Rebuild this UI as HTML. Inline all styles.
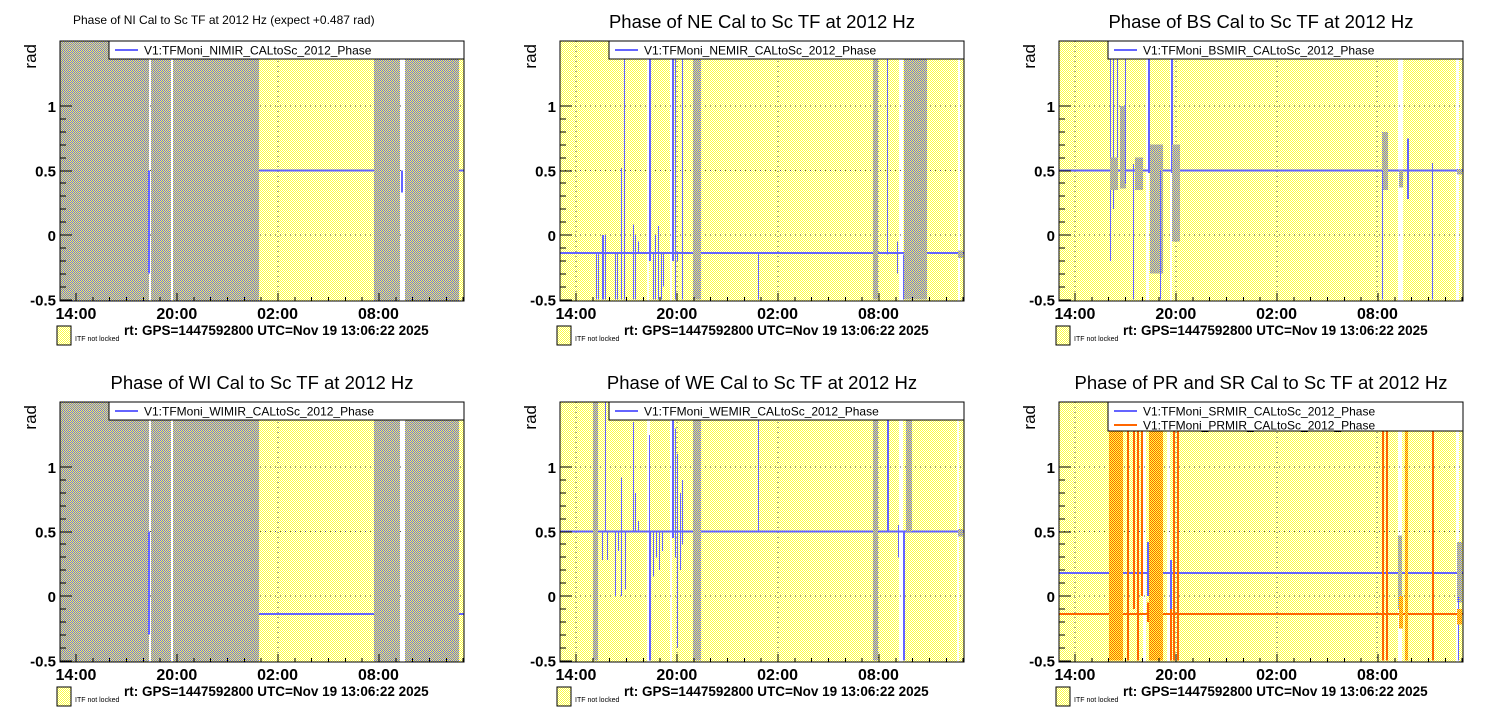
<!DOCTYPE html>
<html><head><meta charset="utf-8"><style>
body{margin:0;background:#fff;width:1496px;height:722px;overflow:hidden}
svg{display:block}
text{font-family:"Liberation Sans",Arial,sans-serif}
</style></head><body>
<svg id="s" width="1496" height="722" xmlns="http://www.w3.org/2000/svg" shape-rendering="crispEdges">
<defs>
<pattern id="py" width="2" height="2" patternUnits="userSpaceOnUse"><rect width="2" height="2" fill="#fff"/><rect width="1" height="1" fill="#ffff40"/><rect x="1" y="1" width="1" height="1" fill="#ffff40"/></pattern>
<pattern id="pb" width="2" height="2" patternUnits="userSpaceOnUse"><rect width="2" height="2" fill="#ffff40"/><rect width="1" height="1" fill="#6464ff"/><rect x="1" y="1" width="1" height="1" fill="#6464ff"/></pattern>
<pattern id="po" width="2" height="2" patternUnits="userSpaceOnUse"><rect width="2" height="2" fill="#ffff40"/><rect width="1" height="1" fill="#ff6600"/><rect x="1" y="1" width="1" height="1" fill="#ff6600"/></pattern>
</defs>
</svg>
<script>
const S=document.getElementById('s');const NS='http://www.w3.org/2000/svg';
const B='#6464ff',O='#ff6600';
function el(t,a,p){const e=document.createElementNS(NS,t);for(const k in a)e.setAttribute(k,a[k]);(p||S).appendChild(e);return e;}
function txt(x,y,s,a){const e=el('text',Object.assign({x:x,y:y},a));e.textContent=s;return e;}
let cid=0;
function panel(ox,oy,c){
  const W=404,H=260;
  const fy=v=>oy+194-v*129;
  const id='c'+(cid++);
  const cp=el('clipPath',{id:id});el('rect',{x:ox,y:oy,width:W,height:H},cp);
  const g=el('g',{'clip-path':'url(#'+id+')'});
  el('rect',{x:ox,y:oy,width:W,height:H,fill:'url(#py)'},g);
  (c.white||[]).forEach(w=>el('rect',{x:ox+w[0],y:oy,width:w[1],height:H,fill:'#fff'},g));
  [16,117,218,318].forEach(x=>el('line',{x1:ox+x,x2:ox+x,y1:oy,y2:oy+H,stroke:'#555','stroke-dasharray':'1,4','stroke-width':1},g));
  [1,0.5,0].forEach(v=>el('line',{x1:ox,x2:ox+W,y1:fy(v),y2:fy(v),stroke:'#555','stroke-dasharray':'1,4','stroke-width':1},g));
  (c.blocks||[]).forEach(b=>el('rect',{x:ox+b[0],y:oy,width:b[1]-b[0],height:H,fill:b[2]||'url(#pb)'},g));
  (c.base||[]).forEach(b=>el('line',{x1:ox+b[0],x2:ox+b[1],y1:fy(b[2]),y2:fy(b[2]),stroke:b[3]||B,'stroke-width':2},g));
  (c.v||[]).forEach(l=>{const x1=l[0],y1=fy(Math.max(l[1],l[2])),y2=fy(Math.min(l[1],l[2]));const w=l[3]||1;
    el('rect',{x:ox+x1,y:y1,width:w,height:y2-y1,fill:w>2?(l[4]==O?'url(#po)':'url(#pb)'):(l[4]||B)},g);});
  for(let i=0;i<=15;i++){const v=-0.5+i*0.1;const y=Math.round(fy(v));const maj=Math.abs(v*2-Math.round(v*2))<1e-6;
    el('line',{x1:ox,x2:ox+(maj?12:6),y1:y,y2:y,stroke:'#000','stroke-width':1});}
  for(let h=-1;h<24;h++){const x=ox+16+h*16.83;if(x<ox||x>ox+W)continue;const maj=(h%6==0);
    el('line',{x1:x,x2:x,y1:oy+H,y2:oy+H-(maj?8:4),stroke:'#000','stroke-width':1});}
  el('rect',{x:ox,y:oy,width:W,height:H,fill:'none',stroke:'#000','stroke-width':1});
  [[1,'1'],[0.5,'0.5'],[0,'0'],[-0.5,'-0.5']].forEach(t=>txt(ox-4,fy(t[0])+6,t[1],{'text-anchor':'end','font-size':15,'font-weight':'bold'}));
  ['14:00','20:00','02:00','08:00'].forEach((s,i)=>txt(ox+16+i*100.8,oy+H+18,s,{'text-anchor':'middle','font-size':16,'font-weight':'bold'}));
  txt(ox-24,oy+3,'rad',{'font-size':17,transform:'rotate(-90 '+(ox-24)+' '+(oy+3)+')','text-anchor':'end'});
  const lh=c.leg.length>1?29:18;
  el('rect',{x:ox+49,y:oy,width:355,height:lh,fill:'#fff',stroke:'#000','stroke-width':1});
  c.leg.forEach((L,i)=>{const y=oy+9+i*14;el('line',{x1:ox+55,x2:ox+78,y1:y,y2:y,stroke:L[1],'stroke-width':2});
    txt(ox+84,y+4.5,L[0],{'font-size':12});});
  if(c.small) txt(ox+13,oy-17,c.title,{'font-size':12});
  else txt(ox+202,oy-13,c.title,{'font-size':18.5,'text-anchor':'middle'});
  el('rect',{x:ox-3,y:oy+285,width:14,height:19,fill:'url(#py)',stroke:'#000','stroke-width':1});
  txt(ox+15,oy+300,'ITF not locked',{'font-size':7});
  txt(ox+64,oy+294,'rt: GPS=1447592800 UTC=Nov 19 13:06:22 2025',{'font-size':13.5,'font-weight':'bold'});
}
const T=2;
panel(60,41,{small:1,title:'Phase of NI Cal to Sc TF at 2012 Hz (expect +0.487 rad)',leg:[['V1:TFMoni_NIMIR_CALtoSc_2012_Phase',B]],
 blocks:[[0,89],[91,111],[113,199],[314,340],[345,399]],white:[[89,2],[111,2],[340,5]],
 base:[[199,314,0.5],[399,404,0.5]],v:[[88,0.5,-0.3,2],[341,0.5,0.33,2]]});
panel(560,41,{title:'Phase of NE Cal to Sc TF at 2012 Hz',leg:[['V1:TFMoni_NEMIR_CALtoSc_2012_Phase',B]],
 white:[[87,2],[110,2],[339,4],[398,2]],base:[[0,404,-0.14]],
 v:[[36,-0.14,-0.5],[38,-0.14,-0.5],[42,0,-0.5],[43,0,-0.5],[45,0,-0.5],[55,-0.14,-0.5],[57,-0.14,-0.5],[61,0.52,-0.5],[64,T,-0.5],[73,0.08,-0.5],[75,0.0,-0.5],[78,-0.05,-0.14],
 [89,T,-0.2,2],[93,-0.14,-0.5],[95,0.0,-0.5],[98,0.07,-0.5],[101,-0.14,-0.5],[103,-0.14,-0.4],[112,T,-0.2,2],[115,T,-0.5],[117,-0.14,-0.2],[122,T,-0.5],
 [133,T,-0.5,8],[198,-0.14,-0.5],[313,T,-0.5,5],[327,T,-0.15],[337,-0.05,-0.3],[343,-0.15,-0.5,2],[344,T,-0.5,23],[398,-0.12,-0.18,5]]});
panel(1059,41,{title:'Phase of BS Cal to Sc TF at 2012 Hz',leg:[['V1:TFMoni_BSMIR_CALtoSc_2012_Phase',B]],
 white:[[87,3],[111,2],[339,5],[397,3]],base:[[0,404,0.5]],
 v:[[51,T,-0.2],[54,T,0.2],[58,T,0.4],[51,0.6,0.35,8],[61,1.0,0.36,6],[66,T,0.4],[74,0.55,-0.5],[76,0.6,0.35,8],[89,T,0.48,2],[91,0.7,-0.3,13],[101,0.5,-0.5],[112,T,0.48,2],[113,0.7,-0.05,8],
 [323,0.8,0.35,6],[323,0.5,-0.5],[340,0.5,0.37,4],[348,0.75,0.28,2],[373,0.56,-0.5],[398,0.51,0.47,5]]});
panel(60,402,{title:'Phase of WI Cal to Sc TF at 2012 Hz',leg:[['V1:TFMoni_WIMIR_CALtoSc_2012_Phase',B]],
 blocks:[[0,89],[91,111],[113,199],[314,340],[345,399]],white:[[89,2],[111,2],[340,5]],
 base:[[199,314,-0.14],[399,404,-0.14]],v:[[88,0.5,-0.3,2]]});
panel(560,402,{title:'Phase of WE Cal to Sc TF at 2012 Hz',leg:[['V1:TFMoni_WEMIR_CALtoSc_2012_Phase',B]],
 white:[[87,3],[110,2],[339,4],[397,2]],base:[[0,404,0.5]],
 v:[[33,T,-0.5,5],[42,0.5,0.28],[45,T,0.5],[47,0.5,0.28],[55,0.5,0.0],[58,0.5,0.35],[61,0.92,0.0],[65,0.5,0.05],[73,1.35,0.5],[75,0.8,0.5],[78,0.58,0.5],
 [89,0.5,-0.5,2],[89,1.25,0.5],[93,0.5,0.15],[96,0.5,0.3],[99,0.5,0.2],[102,0.5,0.35],[112,T,0.45,2],[115,1.3,0.3],[117,1.1,-0.4],[120,0.8,0.2],[122,0.9,0.4],
 [133,T,-0.5,8],[198,T,0.5],[313,T,-0.5,5],[327,T,0.5,2],[338,0.55,0.3],[343,0.5,-0.5,2],[346,T,0.5,6],[398,0.52,0.46,5]]});
panel(1059,402,{title:'Phase of PR and SR Cal to Sc TF at 2012 Hz',leg:[['V1:TFMoni_SRMIR_CALtoSc_2012_Phase',B],['V1:TFMoni_PRMIR_CALtoSc_2012_Phase',O]],
 white:[[84,3],[108,3],[339,4],[397,3]],base:[[0,404,0.18],[0,404,-0.14,O]],
 v:[[74,0.42,0.0],[88,0.42,0.0,2],[111,0.28,-0.1,2],[339,0.47,-0.1,4],[398,0.42,-0.05,5],[399,0,-0.5],
 [50,T,-0.5,14,O],[68,T,-0.5,2,O],[74,T,-0.1,2,O],[78,T,-0.5,2,O],[82,T,0.0,2,O],[88,-0.05,-0.2,2,O],[90,T,-0.5,14,O],[111,-0.1,-0.5,2,O],[114,T,-0.5,2,O],[118,T,-0.5,2,O],
 [323,T,-0.5,2,O],[327,T,-0.5,2,O],[340,0.0,-0.25,4,O],[346,T,-0.5,3,O],[373,T,-0.5,2,O],[398,-0.1,-0.22,5,O]]});
</script>
</body></html>
